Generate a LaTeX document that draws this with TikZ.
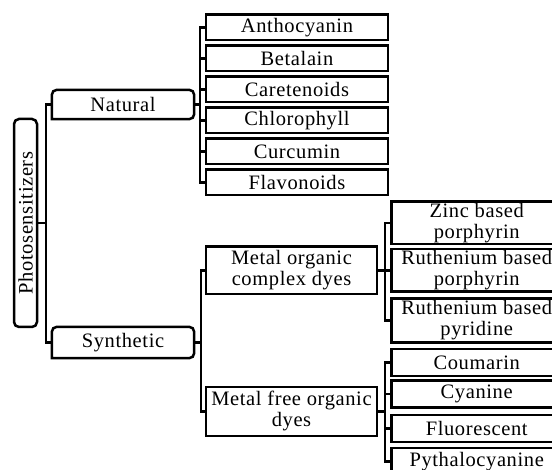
\documentclass[tikz,border=0pt]{standalone}
\usepackage{fontspec}
\setmainfont[LetterSpace=3]{Liberation Serif}
\begin{document}
\begin{tikzpicture}[x=1pt,y=-1pt,
  every node/.style={font=\fontsize{20.5}{21}\selectfont, inner sep=0pt, align=center},
  leaf/.style={draw, line width=2.5pt, minimum width=182pt, minimum height=25.5pt},
  mid/.style={draw, line width=2.5pt, minimum width=171pt},
  far/.style={draw, line width=2.5pt, minimum width=170pt},
  cat/.style={minimum width=142pt},
  conn/.style={line width=2.5pt}]
\useasboundingbox (0,0) rectangle (552,470);
\clip (0,0) rectangle (552,470);
% root
\node[draw, line width=2.5pt, rounded corners=5pt, rotate=90, minimum width=208pt, minimum height=23pt] (ps) at (25.5,223) {Photosensitizers};
% categories
\node[cat, minimum height=29pt] (nat) at (123,104.5) {Natural};
\node[cat, minimum height=31pt] (syn) at (123,342.5) {Synthetic};
\draw[line width=2.5pt] (nat.south) -- (nat.south west) [rounded corners=5pt] -- (nat.north west) -- (nat.north east) -- (nat.south east) -- cycle;
\draw[line width=2.5pt] (syn.south) -- (syn.south west) [rounded corners=5pt] -- (syn.north west) -- (syn.north east) -- (syn.south east) -- cycle;
% natural leaves
\node[leaf] (n1) at (297,27.5) {Anthocyanin};
\node[leaf] (n2) at (297,58.5) {Betalain};
\node[leaf] (n3) at (297,89.5) {Caretenoids};
\node[leaf] (n4) at (297,120.5) {Chlorophyll};
\node[leaf] (n5) at (297,151.5) {Curcumin};
\node[leaf] (n6) at (297,182.5) {Flavonoids};
% synthetic subcategories
\node[mid, minimum height=47.5pt] (mo) at (291.5,270.5) {Metal organic\\complex dyes};
\node[mid, minimum height=49pt] (mf) at (291.5,411.3) {Metal free organic\\dyes};
% level 3
\node[far, minimum height=42.5pt] (z1) at (476.7,222.8) {Zinc based\\porphyrin};
\node[far, minimum height=42.5pt] (z2) at (476.7,270.5) {Ruthenium based\\porphyrin};
\node[far, minimum height=44pt] (z3) at (476.7,320.3) {Ruthenium based\\pyridine};
\node[far, minimum height=27pt] (f1) at (476.7,362.7) {Coumarin};
\node[far, minimum height=27pt] (f2) at (476.7,394.2) {Cyanine};
\node[far, minimum height=27pt] (f3) at (476.7,428.3) {Fluorescent};
\node[far, minimum height=27pt] (f4) at (476.7,461.7) {Pythalocyanine};
% connectors
\draw[conn] (ps.south) -- ++(9,0);
\draw[conn] (nat.west) -- ++(-6,0) |- (syn.west);
\foreach \n in {n1,n2,n3,n4,n5,n6} \draw[conn] (nat.east) -- ++(6,0) |- (\n.west);
\foreach \n in {mo,mf} \draw[conn] (syn.east) -- ++(7,0) |- (\n.west);
\foreach \n in {z1,z2,z3} \draw[conn] (mo.east) -- ++(6.5,0) |- (\n.west);
\foreach \n in {f1,f2,f3,f4} \draw[conn] (mf.east) -- ++(6.5,0) |- (\n.west);
\end{tikzpicture}
\end{document}
